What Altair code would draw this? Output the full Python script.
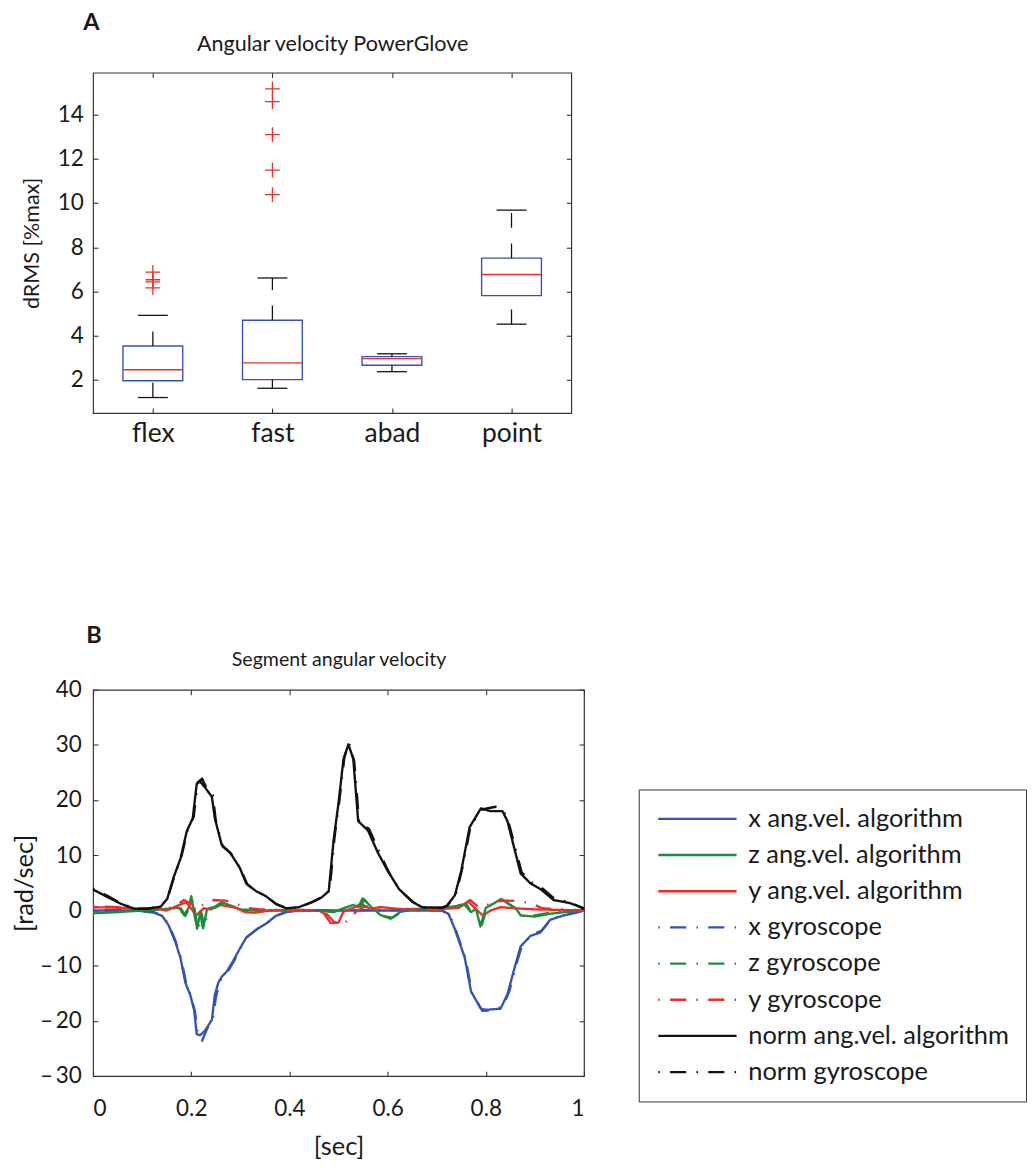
import json
import altair as alt
import pandas as pd

FONT = "Lato"
TXT = "#1a1a1a"
FRAME = "#333333"
BLUE = "#3553b2"
GREEN = "#1f8c3c"
RED = "#e8302a"
BLACK = "#111111"

# ---------------- Panel A: box plot ----------------
categories = ["flex", "fast", "abad", "point"]
whisker_low = [1.20, 1.62, 2.37, 4.52]
quart1 = [1.96, 2.01, 2.66, 5.81]
medians = [2.46, 2.77, 2.96, 6.77]
quart3 = [3.53, 4.70, 3.05, 7.51]
whisker_high = [4.92, 6.61, 3.18, 9.68]
outlier_cat = ["flex", "flex", "flex", "flex", "fast", "fast", "fast", "fast", "fast"]
outlier_val = [6.87, 6.53, 6.43, 6.16, 10.38, 11.49, 13.10, 14.59, 15.17]
a_yticks = [2, 4, 6, 8, 10, 12, 14]

box_df = pd.DataFrame({
    "cat": categories,
    "pos": list(range(1, len(categories) + 1)),
    "lo": whisker_low, "q1": quart1, "med": medians, "q3": quart3, "hi": whisker_high,
})
out_df = pd.DataFrame({
    "pos": [categories.index(c) + 1 for c in outlier_cat],
    "val": outlier_val,
})

xa = alt.Scale(domain=[0.5, 4.5], nice=False, zero=False)
ya = alt.Scale(domain=[0.5, 15.9], nice=False, zero=False)
cat_expr = json.dumps(categories) + "[datum.value - 1]"

ax_bottom_a = alt.Axis(orient="bottom", values=[1, 2, 3, 4], labelExpr=cat_expr, offset=-5,
                       tickSize=5, labelPadding=8, labelFontSize=27, title=None)
ax_left_a = alt.Axis(orient="left", values=a_yticks, offset=-5, tickSize=5, labelPadding=10,
                     title="dRMS [%max]", titleFontSize=22, titlePadding=14)
ax_top_a = alt.Axis(orient="top", values=[1, 2, 3, 4], offset=-5, tickSize=5, labels=False,
                    title="Angular velocity PowerGlove", titleFontSize=22, titlePadding=17)
ax_right_a = alt.Axis(orient="right", values=a_yticks, offset=-5, tickSize=5, labels=False,
                      title=None)

base_a = alt.Chart(box_df).transform_calculate(
    b1="datum.pos - 0.25", b2="datum.pos + 0.25",
    c1="datum.pos - 0.125", c2="datum.pos + 0.125",
)

boxes = base_a.mark_rect(fillOpacity=0, stroke=BLUE, strokeWidth=1.4).encode(
    x=alt.X("b1:Q", scale=xa, axis=ax_bottom_a), x2="b2:Q",
    y=alt.Y("q1:Q", scale=ya, axis=ax_left_a), y2="q3:Q",
)
wl = base_a.mark_rule(color=BLACK, strokeWidth=1.3, strokeDash=[15, 16]).encode(
    x=alt.X("pos:Q", scale=xa, axis=None), y=alt.Y("lo:Q", scale=ya, axis=None), y2="q1:Q")
wh = base_a.mark_rule(color=BLACK, strokeWidth=1.3, strokeDash=[15, 16]).encode(
    x=alt.X("pos:Q", scale=xa, axis=None), y=alt.Y("q3:Q", scale=ya, axis=None), y2="hi:Q")
cl = base_a.mark_rule(color=BLACK, strokeWidth=1.3).encode(
    x=alt.X("c1:Q", scale=xa, axis=None), x2="c2:Q", y=alt.Y("lo:Q", scale=ya, axis=None))
ch = base_a.mark_rule(color=BLACK, strokeWidth=1.3).encode(
    x=alt.X("c1:Q", scale=xa, axis=None), x2="c2:Q", y=alt.Y("hi:Q", scale=ya, axis=None))
med = base_a.mark_rule(color=RED, strokeWidth=1.4).encode(
    x=alt.X("b1:Q", scale=xa, axis=None), x2="b2:Q", y=alt.Y("med:Q", scale=ya, axis=None))
outl = alt.Chart(out_df).mark_point(shape="M-1,0H1M0,-1V1", size=225, filled=False,
                                     color=RED, strokeWidth=1.3, opacity=1).encode(
    x=alt.X("pos:Q", scale=xa, axis=ax_top_a),
    y=alt.Y("val:Q", scale=ya, axis=ax_right_a),
)

panel_a = alt.layer(boxes, wl, wh, cl, ch, med, outl).resolve_axis(
    x="independent", y="independent"
).properties(
    width=489, height=348,
    title=alt.TitleParams("A", anchor="start", frame="group", dx=-10, offset=-2),
)

# ---------------- Panel B: angular velocity traces ----------------
series_names = [
    "x ang.vel. algorithm", "z ang.vel. algorithm", "y ang.vel. algorithm",
    "x gyroscope", "z gyroscope", "y gyroscope",
    "norm ang.vel. algorithm", "norm gyroscope",
]
series_colors = [BLUE, GREEN, RED, BLUE, GREEN, RED, BLACK, BLACK]
SOLID = [1, 0]
DASHDOT = [1.5, 10.5, 16.5, 10.5]
series_dashes = [SOLID, SOLID, SOLID, DASHDOT, DASHDOT, DASHDOT, SOLID, DASHDOT]

x_alg = [[0, 0.0], [0.09, 0.0], [0.124, -0.4], [0.141, -1.0], [0.154, -2.7], [0.168, -5.8],
         [0.178, -8.6], [0.188, -13.1], [0.198, -15.3], [0.206, -18.1], [0.211, -22.4],
         [0.218, -22.6], [0.228, -21.8], [0.242, -19.8], [0.248, -15.3], [0.255, -13.1],
         [0.262, -12.0], [0.272, -11.1], [0.285, -9.2], [0.299, -6.9], [0.312, -4.9],
         [0.332, -3.5], [0.352, -2.4], [0.372, -1.0], [0.393, -0.3], [0.419, 0.0], [0.5, 0.0],
         [0.6, 0.0], [0.71, 0.0], [0.724, -0.6], [0.737, -3.4], [0.757, -8.5], [0.77, -14.7],
         [0.79, -17.8], [0.80, -18.0], [0.83, -17.8], [0.844, -15.2], [0.861, -9.6],
         [0.871, -6.5], [0.891, -4.6], [0.911, -4.0], [0.931, -1.7], [0.958, -0.9],
         [0.98, -0.5], [1.0, 0.0]]
z_alg = [[0, -0.5], [0.05, -0.3], [0.1, 0.0], [0.15, 0.3], [0.175, 0.5], [0.185, -0.8],
         [0.195, 0.5], [0.2, 2.6], [0.207, -1.0], [0.212, -3.3], [0.218, -0.5], [0.224, -3.2],
         [0.232, 0.2], [0.245, 0.5], [0.262, 1.5], [0.28, 0.9], [0.3, 0.2], [0.33, 0.0],
         [0.4, 0.0], [0.46, 0.0], [0.49, -0.3], [0.51, 0.4], [0.53, 1.0], [0.54, 0.6],
         [0.549, 2.2], [0.565, 0.8], [0.585, -0.8], [0.606, -1.5], [0.625, -0.3], [0.65, 0.2],
         [0.7, 0.3], [0.74, 0.8], [0.757, 1.0], [0.77, -0.3], [0.78, 0.3], [0.789, -2.9],
         [0.8, 0.5], [0.815, 1.2], [0.831, 2.1], [0.85, 1.0], [0.862, 0.3], [0.871, -0.9],
         [0.9, -1.1], [0.93, -0.6], [0.96, -0.3], [1.0, 0.0]]
y_alg = [[0, 0.6], [0.05, 0.5], [0.1, 0.3], [0.13, 0.3], [0.15, 0.0], [0.17, 0.8], [0.19, 1.5],
         [0.2, 0.3], [0.21, -0.9], [0.225, 0.4], [0.24, 0.2], [0.26, 1.0], [0.29, 0.5],
         [0.31, -0.3], [0.33, -0.4], [0.36, 0.0], [0.42, 0.1], [0.46, 0.0], [0.47, -0.5],
         [0.484, -2.3], [0.5, -2.2], [0.51, -0.2], [0.53, 0.5], [0.548, 1.1], [0.565, 0.3],
         [0.585, 0.6], [0.6, 0.5], [0.62, 0.2], [0.65, 0.3], [0.7, 0.2], [0.745, 0.5],
         [0.764, 1.6], [0.78, 0.2], [0.794, -0.9], [0.81, 0.0], [0.83, 0.6], [0.86, 0.4],
         [0.9, 0.2], [0.95, 0.1], [1.0, 0.0]]
x_gyro = [[0, 0.1], [0.09, 0.0], [0.124, -0.3], [0.141, -0.9], [0.154, -2.5], [0.168, -5.5],
          [0.18, -8.9], [0.19, -13.4], [0.2, -15.6], [0.208, -18.6], [0.214, -22.8],
          [0.222, -23.6], [0.232, -21.5], [0.245, -19.2], [0.25, -15.8], [0.258, -12.9],
          [0.266, -11.8], [0.276, -10.8], [0.288, -9.0], [0.302, -6.6], [0.315, -4.7],
          [0.335, -3.3], [0.355, -2.2], [0.375, -0.9], [0.395, -0.2], [0.42, 0.1], [0.5, 0.0],
          [0.6, 0.1], [0.71, 0.0], [0.726, -0.7], [0.739, -3.6], [0.759, -8.8], [0.772, -15.0],
          [0.793, -18.2], [0.81, -18.1], [0.835, -17.4], [0.848, -14.6], [0.864, -9.2],
          [0.874, -6.3], [0.893, -4.4], [0.913, -3.7], [0.934, -1.5], [0.96, -0.8],
          [0.982, -0.4], [1.0, 0.0]]
z_gyro = [[0, -0.4], [0.05, -0.2], [0.1, 0.1], [0.15, 0.2], [0.178, 0.6], [0.188, -1.0],
          [0.198, 0.8], [0.203, 2.2], [0.21, -1.5], [0.215, -3.5], [0.22, -0.2], [0.227, -3.0],
          [0.235, 0.4], [0.25, 0.6], [0.265, 1.3], [0.285, 0.8], [0.3, 0.1], [0.35, 0.1],
          [0.4, -0.1], [0.46, 0.1], [0.49, -0.2], [0.51, 0.3], [0.53, 1.2], [0.545, 0.7],
          [0.552, 2.0], [0.568, 0.6], [0.59, -1.0], [0.61, -1.3], [0.63, -0.2], [0.66, 0.3],
          [0.7, 0.2], [0.74, 0.9], [0.76, 1.2], [0.772, -0.5], [0.782, 0.2], [0.792, -2.6],
          [0.803, 0.7], [0.82, 1.5], [0.835, 1.9], [0.852, 0.9], [0.865, 0.2], [0.875, -1.0],
          [0.9, -0.9], [0.93, -0.4], [0.96, -0.2], [1.0, 0.0]]
y_gyro = [[0, 0.8], [0.05, 0.6], [0.1, 0.4], [0.15, 0.3], [0.17, 1.0], [0.185, 1.9],
          [0.2, 1.2], [0.215, 0.4], [0.23, 1.5], [0.245, 1.9], [0.27, 1.8], [0.29, 1.3],
          [0.31, 0.5], [0.34, 0.2], [0.4, 0.1], [0.46, 0.0], [0.478, -0.8], [0.49, -2.0],
          [0.505, -2.7], [0.52, -1.7], [0.535, -0.3], [0.55, 0.6], [0.57, 0.8], [0.6, 0.4],
          [0.65, 0.2], [0.7, 0.1], [0.75, 0.8], [0.768, 1.9], [0.785, 0.6], [0.8, 0.9],
          [0.82, 1.6], [0.84, 1.8], [0.87, 1.7], [0.895, 1.2], [0.915, 0.4], [0.95, 0.2],
          [1.0, 0.0]]
norm_alg = [[0, 3.8], [0.03, 2.4], [0.057, 1.2], [0.084, 0.3], [0.11, 0.3], [0.138, 0.7],
            [0.151, 2.1], [0.164, 6.0], [0.178, 9.4], [0.191, 14.4], [0.203, 16.7],
            [0.211, 22.9], [0.218, 23.4], [0.228, 22.3], [0.242, 20.6], [0.248, 16.7],
            [0.262, 11.9], [0.279, 10.5], [0.299, 7.7], [0.312, 4.9], [0.332, 3.5], [0.352, 2.6],
            [0.372, 1.2], [0.393, 0.4], [0.419, 0.6], [0.446, 1.5], [0.466, 2.4], [0.48, 3.5],
            [0.49, 12.8], [0.5, 19.5], [0.51, 27.4], [0.52, 30.1], [0.53, 27.5], [0.54, 16.2],
            [0.56, 14.5], [0.58, 10.5], [0.6, 7.2], [0.623, 3.9], [0.65, 1.6], [0.67, 0.6],
            [0.71, 0.5], [0.72, 0.8], [0.737, 2.75], [0.75, 7.2], [0.767, 15.1], [0.79, 18.5],
            [0.81, 18.0], [0.834, 18.0], [0.844, 16.2], [0.871, 6.7], [0.891, 4.9],
            [0.911, 3.9], [0.938, 1.9], [0.971, 1.35], [1.0, 0.4]]
norm_gyro = [[0, 4.0], [0.03, 2.6], [0.057, 1.3], [0.084, 0.4], [0.11, 0.3], [0.138, 0.8],
             [0.152, 2.3], [0.166, 6.3], [0.18, 9.8], [0.193, 14.7], [0.205, 17.0],
             [0.213, 23.2], [0.222, 23.9], [0.232, 22.0], [0.244, 20.9], [0.25, 16.3],
             [0.264, 11.6], [0.281, 10.3], [0.301, 7.5], [0.314, 4.7], [0.334, 3.4],
             [0.354, 2.5], [0.374, 1.1], [0.395, 0.4], [0.42, 0.6], [0.448, 1.6], [0.468, 2.5],
             [0.482, 3.7], [0.492, 13.4], [0.502, 20.1], [0.512, 27.8], [0.521, 30.4],
             [0.532, 27.0], [0.542, 15.9], [0.562, 14.8], [0.582, 10.8], [0.602, 7.0],
             [0.625, 3.7], [0.652, 1.5], [0.672, 0.5], [0.71, 0.5], [0.722, 0.9], [0.739, 2.9],
             [0.752, 7.6], [0.769, 15.3], [0.792, 18.3], [0.82, 18.8], [0.836, 18.2],
             [0.847, 15.8], [0.873, 6.9], [0.893, 5.1], [0.913, 4.2], [0.94, 2.1],
             [0.972, 1.5], [1.0, 0.3]]
b_xticks = [0, 0.2, 0.4, 0.6, 0.8, 1]
b_yticks = [-30, -20, -10, 0, 10, 20, 30, 40]

series_data = [x_alg, z_alg, y_alg, x_gyro, z_gyro, y_gyro, norm_alg, norm_gyro]
rows = []
for name, pts in zip(series_names, series_data):
    for t, v in pts:
        rows.append({"series": name, "t": t, "v": v})
df_b = pd.DataFrame(rows)

xb = alt.Scale(domain=[0, 1], nice=False, zero=False)
yb = alt.Scale(domain=[-30, 40], nice=False, zero=False)
color_scale = alt.Scale(domain=series_names, range=series_colors)
dash_scale = alt.Scale(domain=series_names, range=series_dashes)

# legend sample line: 80 px long, drawn from the left edge of a 20 px symbol slot
legend_b = alt.Legend(
    orient="none", legendX=558, legendY=733, title=None,
    symbolType="M-1,0H7", symbolSize=400, symbolStrokeWidth=2.4,
    labelFontSize=26, labelFont=FONT, labelColor=TXT, labelLimit=0, labelOffset=69,
    strokeColor=FRAME, fillColor="white", padding=17, rowPadding=11, cornerRadius=0,
)

ax_bottom_b = alt.Axis(orient="bottom", values=b_xticks, format="~g", offset=-5, tickSize=5,
                       labelPadding=22, title="[sec]", titleFontSize=26, titlePadding=14)
ax_left_b = alt.Axis(orient="left", values=b_yticks, offset=-5, tickSize=5, labelPadding=12,
                     labelExpr="datum.value < 0 ? '\u2013\u2009' + format(-datum.value, 'd') : format(datum.value, 'd')",
                     title="[rad/sec]", titleFontSize=26, titlePadding=2)
ax_top_b = alt.Axis(orient="top", values=b_xticks, offset=-5, tickSize=5, labels=False,
                    title="Segment angular velocity", titleFontSize=20, titlePadding=20)
ax_right_b = alt.Axis(orient="right", values=b_yticks, offset=-5, tickSize=5, labels=False,
                      title=None)


def traces(names, xaxis, yaxis):
    return alt.Chart(df_b).transform_filter(
        alt.FieldOneOfPredicate(field="series", oneOf=names)
    ).mark_line(strokeWidth=2.4, strokeCap="butt", strokeJoin="round").encode(
        x=alt.X("t:Q", scale=xb, axis=xaxis),
        y=alt.Y("v:Q", scale=yb, axis=yaxis),
        color=alt.Color("series:N", scale=color_scale, legend=legend_b),
        strokeDash=alt.StrokeDash("series:N", scale=dash_scale, legend=legend_b),
    )


lay_alg = traces(series_names[0:3], ax_bottom_b, ax_left_b)
lay_gyro = traces(series_names[3:6], ax_top_b, ax_right_b)
lay_norm = traces(series_names[6:8], None, None)

panel_b = alt.layer(lay_alg, lay_gyro, lay_norm).resolve_axis(
    x="independent", y="independent"
).properties(
    width=502, height=395,
    title=alt.TitleParams("B", anchor="start", frame="group", dx=-7, offset=2),
)

chart = alt.vconcat(panel_a, panel_b, spacing=180).properties(
    padding={"left": 3, "top": -11, "right": 0, "bottom": 0}
).configure_view(
    stroke=FRAME, strokeWidth=1.2
).configure_axis(
    grid=False, domain=False, tickColor=FRAME, tickWidth=1.1,
    labelFont=FONT, labelFontSize=23, labelColor=TXT,
    titleFont=FONT, titleFontSize=22, titleColor=TXT, titleFontWeight="normal",
).configure_title(
    font=FONT, fontSize=24, fontWeight="bold", color=TXT,
)

chart.save("out.html", embed_options={"renderer": "svg", "actions": False})
